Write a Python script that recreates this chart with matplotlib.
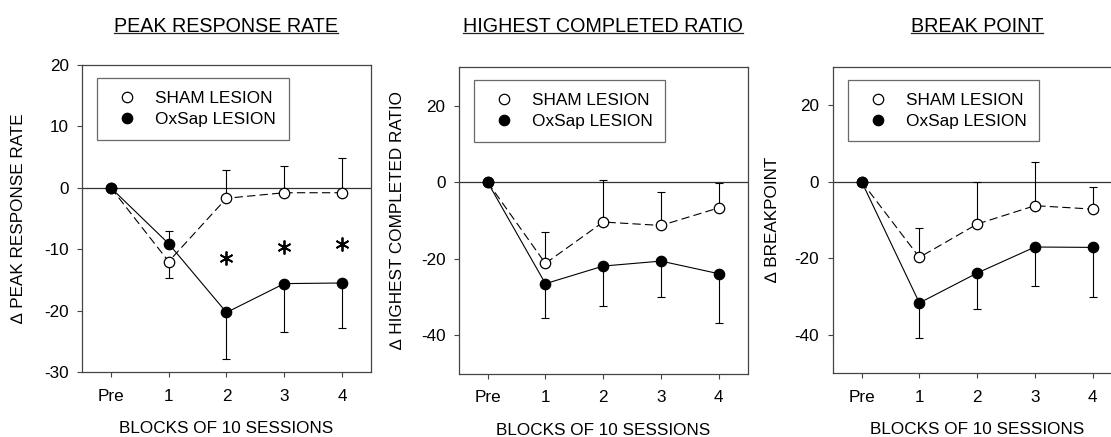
import matplotlib
matplotlib.use('Agg')
import matplotlib.pyplot as plt
from matplotlib.lines import Line2D

plt.rcParams['font.family'] = ['Liberation Sans', 'DejaVu Sans']
plt.rcParams['lines.scale_dashes'] = False
plt.rcParams['axes.unicode_minus'] = False

blocks = ['Pre', '1', '2', '3', '4']
titles = ['PEAK RESPONSE RATE', 'HIGHEST COMPLETED RATIO', 'BREAK POINT']
ylabels = ['\u2206 PEAK RESPONSE RATE', '\u2206 HIGHEST COMPLETED RATIO', '\u2206 BREAKPOINT']
xlabel = 'BLOCKS OF 10 SESSIONS'

# peak response rate
peak_sham = [0, -12.0, -1.7, -0.8, -0.8]
peak_sham_err_up = [0, 0, 4.6, 4.4, 5.7]
peak_sham_err_dn = [0, 2.7, 0, 0, 0]
peak_ox = [0, -9.1, -20.3, -15.6, -15.5]
peak_ox_err_up = [0, 2.1, 0, 0, 0]
peak_ox_err_dn = [0, 0, 7.5, 7.9, 7.3]

# highest completed ratio
hcr_sham = [0, -21.2, -10.4, -11.3, -6.7]
hcr_sham_err_up = [0, 8.3, 11.1, 8.8, 6.5]
hcr_ox = [0, -26.5, -21.9, -20.6, -23.9]
hcr_ox_err_dn = [0, 9.0, 10.3, 9.5, 12.8]

# break point
bp_sham = [0, -19.8, -11.1, -6.3, -7.2]
bp_sham_err_up = [0, 7.6, 11.1, 11.3, 5.9]
bp_ox = [0, -31.7, -23.9, -17.1, -17.2]
bp_ox_err_dn = [0, 9.1, 9.4, 10.1, 12.9]

zeros = [0, 0, 0, 0, 0]

# significance stars (panel 1)
star_x = [2, 3, 4]
star_y = [-11.4, -9.6, -9.2]

ylims = [(-30, 20), (-50, 30), (-50, 30)]
yticks = [range(-30, 21, 10), range(-40, 21, 20), range(-40, 21, 20)]

panels = [
    (peak_sham, peak_sham_err_dn, peak_sham_err_up, peak_ox, peak_ox_err_dn, peak_ox_err_up),
    (hcr_sham, zeros, hcr_sham_err_up, hcr_ox, hcr_ox_err_dn, zeros),
    (bp_sham, zeros, bp_sham_err_up, bp_ox, bp_ox_err_dn, zeros),
]

positions = [
    [0.0738, 0.1487, 0.2601, 0.7025],
    [0.4129, 0.1449, 0.2601, 0.7011],
    [0.7495, 0.1465, 0.2601, 0.7009],
]
ylab_x = [-0.218, -0.2135, -0.21]

fig = plt.figure(figsize=(11.11, 4.37), dpi=100)
x = list(range(len(blocks)))
spine_c = '#444444'
title_texts = []

for i, (sham, s_dn, s_up, ox, o_dn, o_up) in enumerate(panels):
    ax = fig.add_axes(positions[i])
    ax.axhline(0, color='#333333', lw=0.9, zorder=1)

    ax.errorbar(x, sham, yerr=[s_dn, s_up], fmt='none', ecolor='black',
                elinewidth=0.8, capsize=2.8, capthick=0.8, zorder=2)
    ax.errorbar(x, ox, yerr=[o_dn, o_up], fmt='none', ecolor='black',
                elinewidth=0.8, capsize=2.8, capthick=0.8, zorder=2)
    ax.plot(x, sham, color='black', lw=0.8, dashes=(6.0, 3.0), zorder=3)
    ax.plot(x, ox, color='black', lw=0.8, zorder=3)
    ax.plot(x, sham, 'o', ls='none', ms=7.5, mfc='white', mec='black', mew=0.9, zorder=4)
    ax.plot(x, ox, 'o', ls='none', ms=7.5, mfc='black', mec='black', mew=0.9, zorder=4)

    if i == 0:
        ax.plot(star_x, star_y, ls='none', marker=(6, 2, 0), ms=10, mec='black',
                mew=1.3, zorder=4)

    ax.set_xlim(-0.5, 4.5)
    ax.set_ylim(*ylims[i])
    ax.set_xticks(x)
    ax.set_xticklabels(blocks)
    ax.set_yticks(list(yticks[i]))
    ax.tick_params(direction='out', length=3.6, width=0.8, color=spine_c,
                   labelsize=12.3, pad=6)
    ax.tick_params(axis='x', pad=8.5)
    for sp in ax.spines.values():
        sp.set_color(spine_c)
        sp.set_linewidth(0.9)

    handles = [
        Line2D([], [], marker='o', ls='none', ms=7.5, mfc='white', mec='black', mew=0.9),
        Line2D([], [], marker='o', ls='none', ms=7.5, mfc='black', mec='black', mew=0.9),
    ]
    leg = ax.legend(handles, ['SHAM LESION', 'OxSap LESION'], loc='upper left',
                    bbox_to_anchor=(0.052, 0.957), borderaxespad=0, fontsize=12.4,
                    frameon=True, fancybox=False, borderpad=0.75, handlelength=2.0,
                    handletextpad=0.62, labelspacing=0.33)
    leg.get_frame().set_edgecolor(spine_c)
    leg.get_frame().set_linewidth(0.9)

    ax.text(ylab_x[i], 0.5, ylabels[i], rotation=90, transform=ax.transAxes,
            ha='center', va='center', fontsize=12.3)
    ax.text(0.5, -0.184, xlabel, transform=ax.transAxes, ha='center', va='center',
            fontsize=12.3)

    cx = positions[i][0] + positions[i][2] / 2
    t = fig.text(cx, 1 - 32 / 437, titles[i], ha='center', va='baseline', fontsize=14.2)
    title_texts.append(t)

# underline the titles
fig.canvas.draw()
r = fig.canvas.get_renderer()
W, H = fig.bbox.width, fig.bbox.height
for t in title_texts:
    bb = t.get_window_extent(r)
    yb = 1 - 32.5 / 437
    fig.add_artist(Line2D([bb.x0 / W, bb.x1 / W], [yb, yb], transform=fig.transFigure,
                          color='#222222', lw=0.9))

fig.savefig('out.png', dpi=100)
